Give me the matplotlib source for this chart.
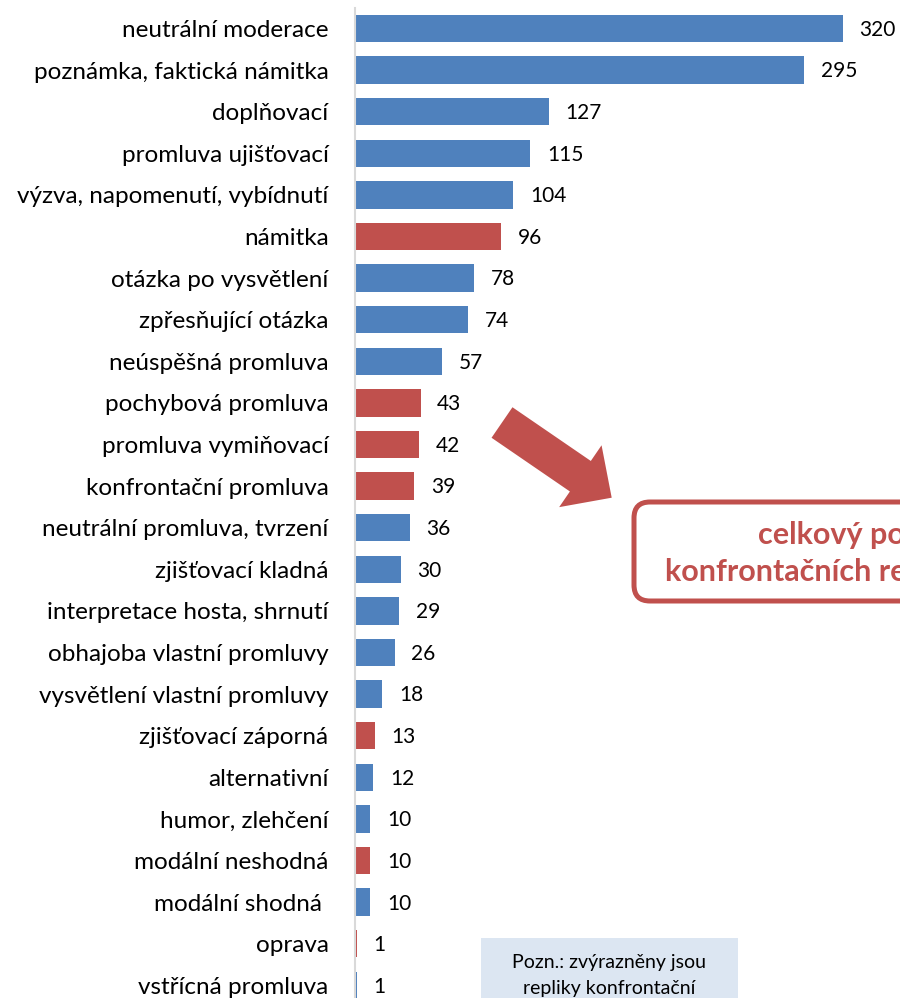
import matplotlib
matplotlib.use("Agg")
import matplotlib.pyplot as plt
from matplotlib.patches import FancyArrow, FancyBboxPatch, Rectangle

plt.rcParams["font.family"] = ["Lato", "DejaVu Sans"]

BLUE = "#4F81BD"
RED = "#C0504D"

categories = [
    "neutrální moderace", "poznámka, faktická námitka", "doplňovací",
    "promluva ujišťovací", "výzva, napomenutí, vybídnutí", "námitka",
    "otázka po vysvětlení", "zpřesňující otázka", "neúspěšná promluva",
    "pochybová promluva", "promluva vymiňovací", "konfrontační promluva",
    "neutrální promluva, tvrzení", "zjišťovací kladná",
    "interpretace hosta, shrnutí", "obhajoba vlastní promluvy",
    "vysvětlení vlastní promluvy", "zjišťovací záporná", "alternativní",
    "humor, zlehčení", "modální neshodná", "modální shodná ", "oprava",
    "vstřícná promluva",
]
values = [320, 295, 127, 115, 104, 96, 78, 74, 57, 43, 42, 39, 36, 30, 29,
          26, 18, 13, 12, 10, 10, 10, 1, 1]
# replies marked as confrontational (red)
confrontational = [False, False, False, False, False, True, False, False,
                   False, True, True, True, False, False, False, False,
                   False, True, False, False, True, False, True, False]

W, H = 900, 998
fig = plt.figure(figsize=(W / 100, H / 100), dpi=100)
ax = fig.add_axes([355 / W, 0.0, 1 - 355 / W, 1 - 8 / H])

ypos = list(range(len(categories)))
colors = [RED if c else BLUE for c in confrontational]
ax.barh(ypos, values, height=0.66, color=colors, zorder=2)

for y, v in zip(ypos, values):
    ax.annotate(str(v), (v, y), xytext=(12, -1), textcoords="offset points",
                va="center", ha="left", fontsize=15, color="black")

ax.set_yticks(ypos)
ax.set_yticklabels(categories, fontsize=17.5)
ax.set_ylim(23.305, -0.493)
ax.set_xlim(0, 357.7)
ax.set_xticks([])
ax.tick_params(axis="y", length=0, pad=19)
for s in ["top", "right", "bottom"]:
    ax.spines[s].set_visible(False)
ax.spines["left"].set_color("#D9D9D9")
ax.spines["left"].set_linewidth(1.5)

# overlay in pixel coordinates for the annotation shapes
ov = fig.add_axes([0, 0, 1, 1], zorder=5)
ov.set_xlim(0, W)
ov.set_ylim(H, 0)
ov.axis("off")
ov.patch.set_alpha(0)

ov.add_patch(FancyArrow(502, 422.5, 109.7, 75.2, width=37, head_width=75,
                        head_length=38, length_includes_head=True,
                        color=RED, lw=0))

ov.add_patch(FancyBboxPatch((634, 502), 420, 99,
                            boxstyle="round,pad=0,rounding_size=16",
                            fc="white", ec=RED, lw=3.6))
ov.text(758, 544, "celkový podíl", color=RED, fontsize=22,
        fontweight="bold", ha="left", va="baseline")
ov.text(665, 581, "konfrontačních replik: 15 %", color=RED, fontsize=22,
        fontweight="bold", ha="left", va="baseline")

ov.add_patch(Rectangle((481, 938), 257, 80, fc="#DCE6F2", ec="none"))
ov.text(609, 968, "Pozn.: zvýrazněny jsou", fontsize=14, ha="center",
        va="baseline")
ov.text(609, 994, "repliky konfrontační", fontsize=14, ha="center",
        va="baseline")

fig.savefig("out.png", dpi=100)
